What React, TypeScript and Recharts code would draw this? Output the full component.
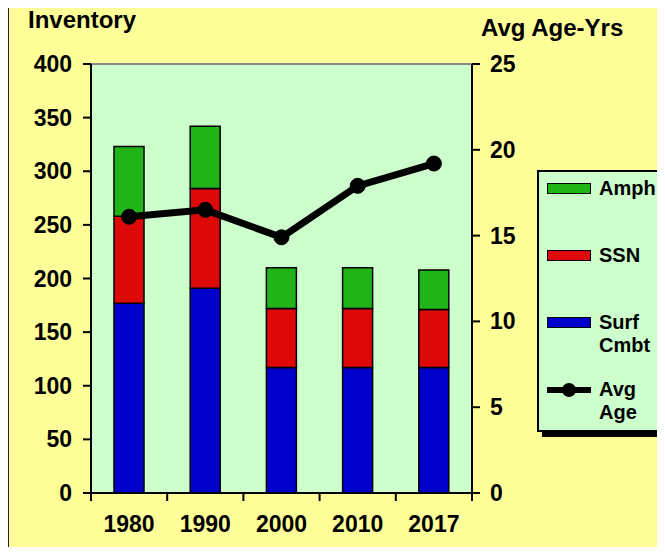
import {
  Bar,
  CartesianGrid,
  ComposedChart,
  Legend,
  Line,
  ReferenceLine,
  XAxis,
  YAxis,
} from "recharts";

const years = ["1980", "1990", "2000", "2010", "2017"];
const surfCmbt = [177, 191, 117, 117, 117];
const ssn = [81, 93, 55, 55, 54];
const amph = [65, 58, 38, 38, 37];
const avgAge = [16.1, 16.5, 14.9, 17.9, 19.2];

const inventoryTicks = [0, 50, 100, 150, 200, 250, 300, 350, 400];
const ageTicks = [0, 5, 10, 15, 20, 25];

const data = years.map((year, i) => ({
  year,
  surf: surfCmbt[i],
  ssn: ssn[i],
  amph: amph[i],
  age: avgAge[i],
}));

const FONT = '"Liberation Sans", Arial, sans-serif';
const GREEN = "#20B418";
const RED = "#DD0808";
const BLUE = "#0000CC";

// tick label shared by the y axes
function TickText(props: any) {
  const { x, y, payload, textAnchor, dy } = props;
  return (
    <text
      x={x}
      y={y}
      dy={dy}
      textAnchor={textAnchor}
      fontFamily={FONT}
      fontSize={23}
      fontWeight={700}
      fill="#000"
    >
      {payload.value}
    </text>
  );
}

// category tick: label in the middle, tick marks on the slot edges
function YearTick(props: any) {
  const { x, y, payload, index, visibleTicksCount } = props;
  const half = payload.offset ?? 38;
  const last = index === (visibleTicksCount ?? years.length) - 1;
  return (
    <g>
      <line x1={x - half} y1={y} x2={x - half} y2={y + 8} stroke="#000" strokeWidth={2} />
      {last && (
        <line x1={x + half} y1={y} x2={x + half} y2={y + 8} stroke="#000" strokeWidth={2} />
      )}
      <text
        x={x}
        y={y + 39}
        textAnchor="middle"
        fontFamily={FONT}
        fontSize={23}
        fontWeight={700}
        fill="#000"
      >
        {payload.value}
      </text>
    </g>
  );
}

const legendItems = [
  { kind: "bar", color: GREEN, lines: ["Amph"] },
  { kind: "bar", color: RED, lines: ["SSN"] },
  { kind: "bar", color: BLUE, lines: ["Surf", "Cmbt"] },
  { kind: "line", color: "#000", lines: ["Avg", "Age"] },
];

function LegendBox() {
  return (
    <div
      style={{
        width: 122,
        height: 262,
        boxSizing: "border-box",
        background: "#CCFFCC",
        border: "2px solid #000",
        boxShadow: "5px 5px 0 #000",
        paddingTop: 5,
        fontFamily: FONT,
        fontWeight: 700,
        fontSize: 20,
        color: "#000",
      }}
    >
      {legendItems.map((item) => (
        <div key={item.lines[0]} style={{ display: "flex", height: 67, paddingLeft: 8 }}>
          <div style={{ width: 44, height: 23, position: "relative", marginRight: 8 }}>
            {item.kind === "bar" ? (
              <div
                style={{
                  position: "absolute",
                  top: 6,
                  left: 0,
                  width: 44,
                  height: 11,
                  boxSizing: "border-box",
                  background: item.color,
                  border: "1.5px solid #000",
                }}
              />
            ) : (
              <>
                <div
                  style={{
                    position: "absolute",
                    top: 9,
                    left: 0,
                    width: 44,
                    height: 6,
                    background: "#000",
                  }}
                />
                <div
                  style={{
                    position: "absolute",
                    top: 5,
                    left: 15,
                    width: 14,
                    height: 14,
                    borderRadius: 7,
                    background: "#000",
                  }}
                />
              </>
            )}
          </div>
          <div style={{ lineHeight: "23px" }}>
            {item.lines.map((l) => (
              <div key={l}>{l}</div>
            ))}
          </div>
        </div>
      ))}
    </div>
  );
}

export default function App() {
  return (
    <div
      style={{
        margin: -8,
        width: 665,
        height: 555,
        position: "relative",
        background: "#FFFF99",
        overflow: "hidden",
      }}
    >
      {/* frame edges visible on the left and bottom */}
      <div
        style={{
          position: "absolute",
          left: 7,
          top: -10,
          right: -10,
          bottom: 2,
          borderLeft: "2px solid #222",
          borderBottom: "2px solid #222",
        }}
      />
      <div
        style={{
          position: "absolute",
          left: 28,
          top: 8,
          fontFamily: FONT,
          fontWeight: 700,
          fontSize: 24,
          lineHeight: 1,
        }}
      >
        Inventory
      </div>
      <div
        style={{
          position: "absolute",
          left: 481,
          top: 16,
          fontFamily: FONT,
          fontWeight: 700,
          fontSize: 24,
          lineHeight: 1,
        }}
      >
        Avg Age-Yrs
      </div>

      <ComposedChart
        width={665}
        height={555}
        data={data}
        margin={{ top: 64, right: 0, bottom: 0, left: 0 }}
        barCategoryGap="30%"
      >
        <CartesianGrid
          xAxisId="cat"
          yAxisId="left"
          horizontal={false}
          vertical={false}
          fill="#CCFFCC"
        />
        <XAxis
          xAxisId="cat"
          dataKey="year"
          height={62}
          axisLine={{ stroke: "#000", strokeWidth: 2 }}
          tickLine={false}
          tickSize={0}
          tickMargin={0}
          interval={0}
          tick={<YearTick />}
        />
        <YAxis
          yAxisId="left"
          width={91}
          domain={[0, 400]}
          ticks={inventoryTicks}
          interval={0}
          tickSize={8}
          tickMargin={11}
          axisLine={{ stroke: "#000", strokeWidth: 2 }}
          tickLine={{ stroke: "#000", strokeWidth: 2 }}
          tick={<TickText dy={8} />}
        />
        <YAxis
          yAxisId="right"
          orientation="right"
          width={193}
          domain={[0, 25]}
          ticks={ageTicks}
          interval={0}
          tickSize={8}
          tickMargin={10}
          axisLine={{ stroke: "#000", strokeWidth: 2 }}
          tickLine={{ stroke: "#000", strokeWidth: 2 }}
          tick={<TickText dy={8} />}
        />
        <ReferenceLine yAxisId="left" xAxisId="cat" y={400} stroke="#888" strokeWidth={2} />
        <Legend
          layout="vertical"
          align="center"
          verticalAlign="middle"
          content={<LegendBox />}
          wrapperStyle={{ left: 537, top: 170, width: 130, height: 270 }}
        />
        <Bar
          xAxisId="cat"
          yAxisId="left"
          dataKey="surf"
          stackId="inv"
          fill={BLUE}
          stroke="#000"
          strokeWidth={1.5}
          barSize={30}
          isAnimationActive={false}
        />
        <Bar
          xAxisId="cat"
          yAxisId="left"
          dataKey="ssn"
          stackId="inv"
          fill={RED}
          stroke="#000"
          strokeWidth={1.5}
          barSize={30}
          isAnimationActive={false}
        />
        <Bar
          xAxisId="cat"
          yAxisId="left"
          dataKey="amph"
          stackId="inv"
          fill={GREEN}
          stroke="#000"
          strokeWidth={1.5}
          barSize={30}
          isAnimationActive={false}
        />
        <Line
          xAxisId="cat"
          yAxisId="right"
          type="linear"
          dataKey="age"
          stroke="#000"
          strokeWidth={7}
          dot={{ r: 7.5, fill: "#000", stroke: "#000", strokeWidth: 1 }}
          activeDot={false}
          isAnimationActive={false}
        />
      </ComposedChart>
    </div>
  );
}
